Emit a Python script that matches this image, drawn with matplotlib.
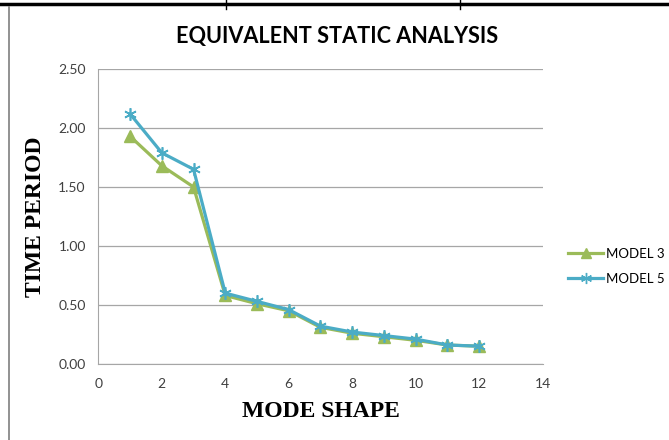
import matplotlib
matplotlib.use("Agg")
import matplotlib.pyplot as plt
from matplotlib.lines import Line2D

# data
mode_shape = [1, 2, 3, 4, 5, 6, 7, 8, 9, 10, 11, 12]
model3 = [1.93, 1.68, 1.50, 0.58, 0.51, 0.45, 0.31, 0.26, 0.23, 0.20, 0.16, 0.15]
model5 = [2.12, 1.79, 1.65, 0.60, 0.53, 0.46, 0.32, 0.27, 0.24, 0.21, 0.16, 0.15]
yticks = [0.0, 0.5, 1.0, 1.5, 2.0, 2.5]
xticks = [0, 2, 4, 6, 8, 10, 12, 14]

green = '#9BBB59'
blue = '#4BACC6'
grid_col = '#A6A6A6'
txt = '#404040'

plt.rcParams['font.family'] = ['Lato', 'DejaVu Sans']

fig = plt.figure(figsize=(6.69, 4.40), dpi=100)
ax = fig.add_axes([0.147, 0.173, 0.664, 0.670])

ax.plot(mode_shape, model3, color=green, lw=2.3, marker='^', ms=8,
        mec=green, mfc=green, label='MODEL 3', zorder=3)
ax.plot(mode_shape, model5, color=blue, lw=2.3, marker=(6, 2, 0), ms=9,
        mec=blue, mew=1.2, label='MODEL 5', zorder=4)

ax.set_xlim(0, 14)
ax.set_ylim(0, 2.5)
ax.set_xticks(xticks)
ax.set_yticks(yticks)
ax.set_yticklabels(['%.2f' % v for v in yticks])
ax.tick_params(axis='both', length=0, labelsize=10, colors=txt)
ax.tick_params(axis='y', pad=9)
ax.tick_params(axis='x', pad=10)
ax.yaxis.grid(True, color=grid_col, lw=0.9)
ax.set_axisbelow(True)
for s in ['top', 'right']:
    ax.spines[s].set_visible(False)
ax.spines['left'].set_color(grid_col)
ax.spines['bottom'].set_color(grid_col)

ax.set_xlabel('MODE SHAPE', family='Liberation Serif', fontweight='bold',
              fontsize=17, color='black', labelpad=8)
ax.set_ylabel('TIME PERIOD', family='Liberation Serif', fontweight='bold',
              fontsize=17, color='black')
ax.yaxis.set_label_coords(-0.118, 0.5)
fig.text(0.504, 0.918, 'EQUIVALENT STATIC ANALYSIS', ha='center', va='center',
         fontsize=15.6, fontweight='bold', color='black')

handles = [Line2D([], [], color=green, lw=2.3, marker='^', ms=7, mfc=green, mec=green),
           Line2D([], [], color=blue, lw=2.3, marker=(6, 2, 0), ms=8, mec=blue, mew=1)]
fig.legend(handles, ['MODEL 3', 'MODEL 5'], loc='center left',
           bbox_to_anchor=(0.832, 0.395), frameon=False, fontsize=9.5,
           handlelength=2.6, handletextpad=0.25, labelspacing=1.0)

# page borders around the chart (document table)
fig.add_artist(Line2D([0, 1], [0.991, 0.991], color='black', lw=2.5, transform=fig.transFigure))
fig.add_artist(Line2D([226 / 669, 226 / 669], [0.98, 1.0], color='black', lw=1, transform=fig.transFigure))
fig.add_artist(Line2D([460 / 669, 460 / 669], [0.98, 1.0], color='black', lw=1, transform=fig.transFigure))
fig.add_artist(Line2D([8.5 / 669, 8.5 / 669], [0, 0.985], color='#7F7F7F', lw=1.2, transform=fig.transFigure))

fig.savefig('out.png', dpi=100)
